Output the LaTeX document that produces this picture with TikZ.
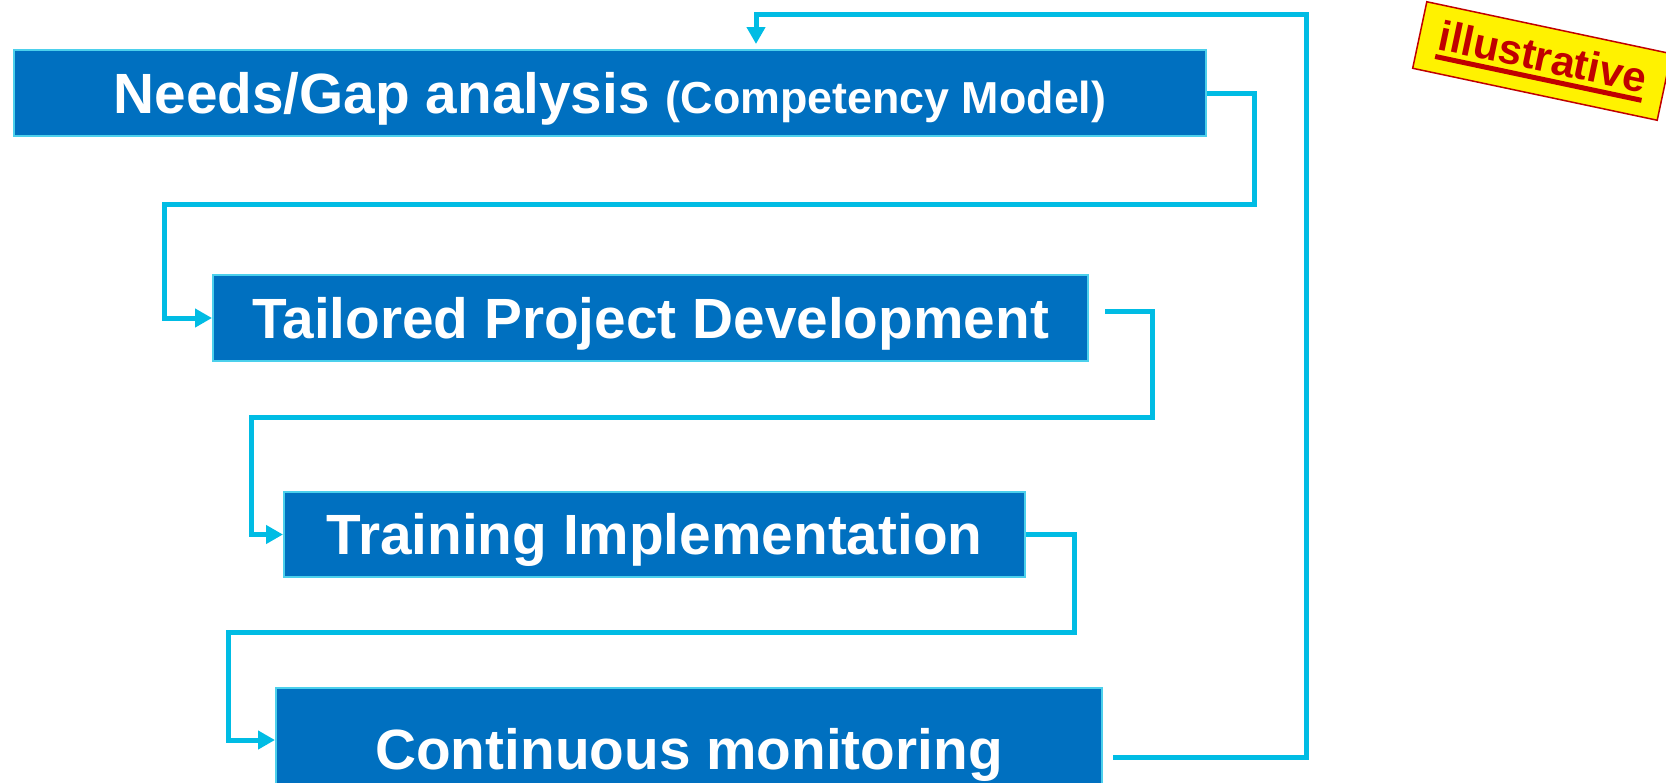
\documentclass[tikz,border=0pt]{standalone}
\usepackage{fontspec}
\setmainfont{Liberation Sans}
\usetikzlibrary{positioning}
\usetikzlibrary{arrows.meta}

\definecolor{boxblue}{RGB}{0,112,192}
\definecolor{flowcyan}{RGB}{0,188,228}
\definecolor{stampred}{RGB}{192,0,0}

% thick underline for the stamp text
\newcommand{\stampline}[1]{\setbox0\hbox{#1}\rlap{\rule[-0.2cm]{\wd0}{0.1cm}}\box0}

\begin{document}
\begin{tikzpicture}[
    box/.style={
        draw=flowcyan!70,
        line width=0.04cm,
        fill=boxblue,
        text=white,
        rectangle,
        inner sep=0pt,
        font=\bfseries\fontsize{32.3}{38}\selectfont,
        text height=0.9cm,
        text depth=0.1cm,
        minimum height=1.72cm
    },
    arrow/.style={
        -{Triangle[length=0.34cm,width=0.36cm]},
        line width=0.1cm,
        draw=flowcyan
    },
    stamp/.style={
        draw=stampred,
        line width=0.03cm,
        fill=yellow,
        text=stampred,
        inner sep=0pt,
        font=\bfseries\fontsize{24}{28}\selectfont,
        minimum width=5cm,
        minimum height=1.36cm,
        rotate=-12
    }
]
    \useasboundingbox (0,0) rectangle (33.32,-15.64);

    % --- Steps of the cycle, each one stepped in under the last ---
    \node[box, minimum width=23.84cm, anchor=north west] (needs) at (0.26,-0.98)
        {Needs/Gap analysis {\fontsize{25.5}{30}\selectfont (Competency Model)}};
    \node[box, minimum width=17.5cm, below right=2.74cm and 3.98cm of needs.south west] (tailored)
        {Tailored Project Development};
    \node[box, minimum width=14.82cm, minimum height=1.7cm, below right=2.58cm and 1.42cm of tailored.south west] (training)
        {Training Implementation};
    \node[box, minimum width=16.52cm, minimum height=2.44cm, below right=2.18cm and -0.16cm of training.south west] (monitor)
        {Continuous monitoring};

    \node[stamp] (note) at (30.84,-1.22) {\stampline{illustrative}};

    % --- Elbow connectors from each step to the next ---
    \draw[arrow] (needs.east) -- ++(0.94,0) -- ++(0,-2.22)
        -| ([xshift=-0.96cm]tailored.west) -- (tailored.west);
    \draw[arrow] ([xshift=0.32cm,yshift=0.14cm]tailored.east) -- ++(0.94,0) -- ++(0,-2.12)
        -| ([xshift=-0.64cm]training.west) -- (training.west);
    \draw[arrow] (training.east) -- ++(0.96,0) -- ++(0,-1.96)
        -| ([xshift=-0.94cm,yshift=0.18cm]monitor.west) -- ([yshift=0.18cm]monitor.west);

    % --- Feedback loop back to the top ---
    \draw[arrow, shorten >=0.1cm] ([xshift=0.2cm,yshift=-0.16cm]monitor.east) -- ++(3.86,0)
        |- ([xshift=14.86cm,yshift=0.7cm]needs.north west) -- ([xshift=14.86cm]needs.north west);
\end{tikzpicture}
\end{document}
